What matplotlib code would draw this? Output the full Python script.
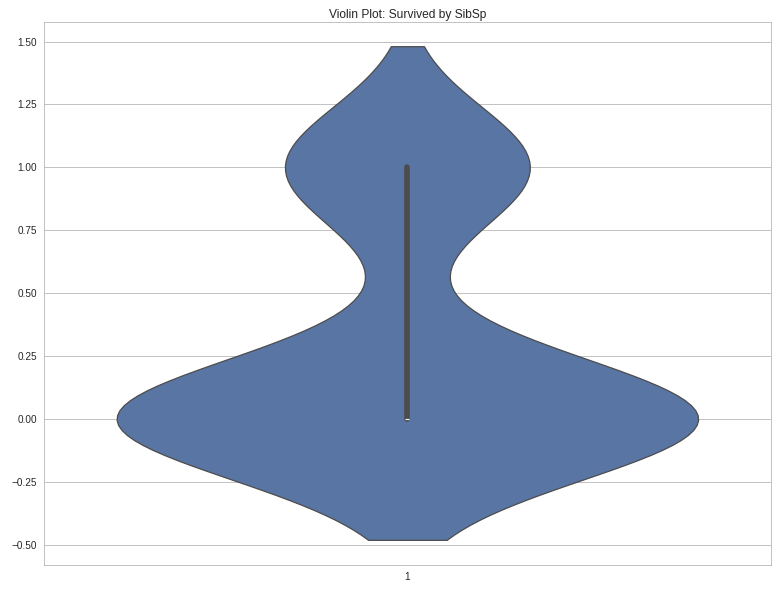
import matplotlib
matplotlib.use("Agg")
import matplotlib.pyplot as plt
import seaborn as sns
import pandas as pd

# passengers in the SibSp == 1 group, split by outcome
sibsp_group = [1]
n_died = 19
n_survived = 8
y_ticks = [-0.5, -0.25, 0, 0.25, 0.5, 0.75, 1.0, 1.25, 1.5]

survived = [0] * n_died + [1] * n_survived
sibsp = sibsp_group * len(survived)
df = pd.DataFrame({"SibSp": sibsp, "Survived": survived})

sns.set_style("whitegrid", {"grid.color": "#b5b5b5", "axes.edgecolor": "#b5b5b5"})
plt.rcParams['font.family'] = ['Liberation Sans', 'DejaVu Sans']
plt.rcParams['font.size'] = 10

fig, ax = plt.subplots(figsize=(777 / 72, 591 / 72), dpi=72)
fig.subplots_adjust(left=0.0566, right=0.992, top=0.9636, bottom=0.0448)

sns.violinplot(x="SibSp", y="Survived", data=df, ax=ax, color="#4c72b0")
ax.set_title("Violin Plot: Survived by SibSp", pad=4)
ax.set_xlabel("")
ax.set_ylabel("")
ax.set_yticks(y_ticks)
ax.set_yticklabels([("%.2f" % v).replace("-", "\u2212") for v in y_ticks])

fig.savefig("out.png", dpi=72)
